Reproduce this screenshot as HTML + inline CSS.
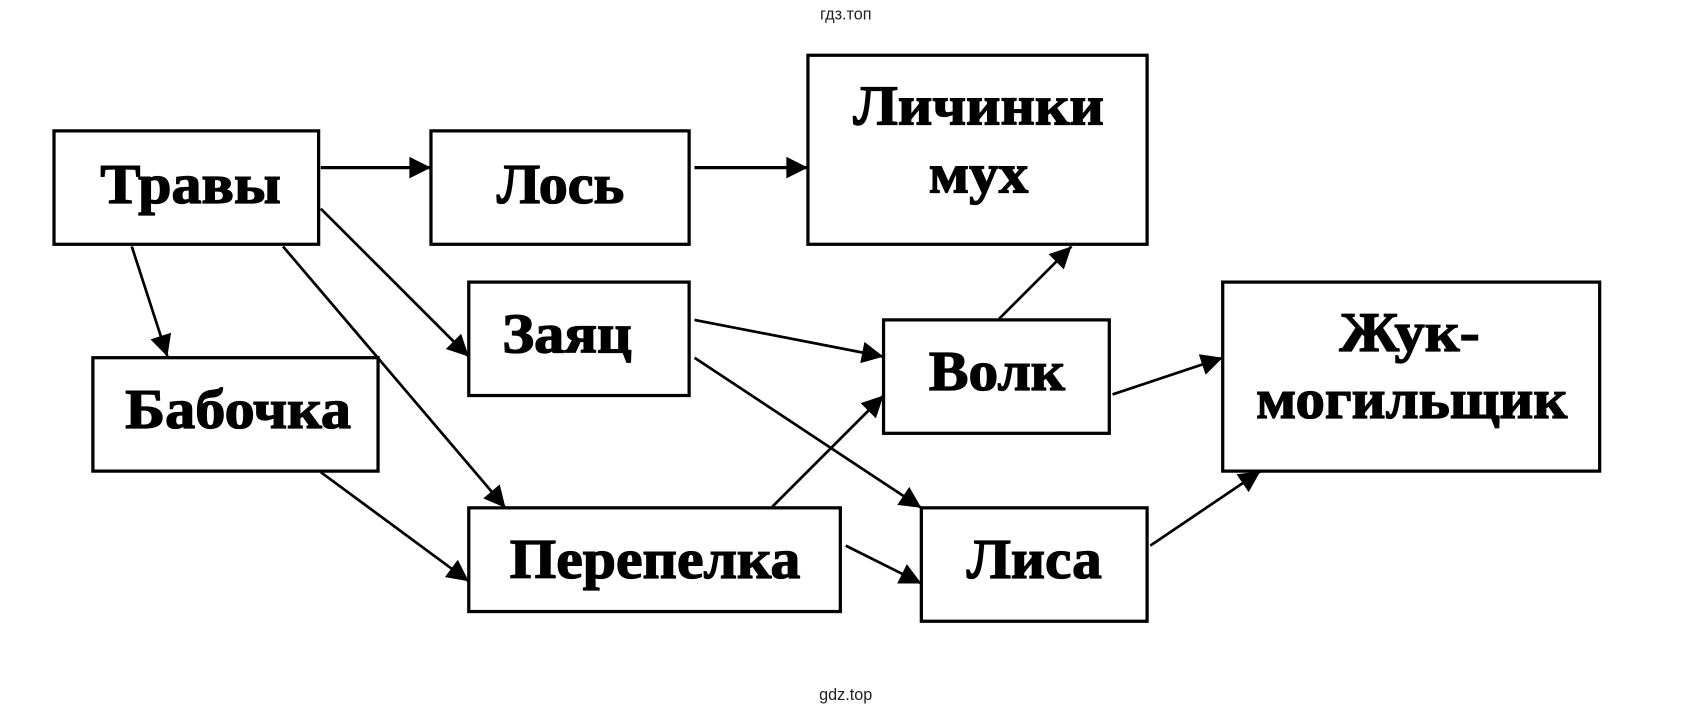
<!DOCTYPE html>
<html><head><meta charset="utf-8"><style>
html,body{margin:0;padding:0;background:#fff;width:1685px;height:710px;overflow:hidden}
svg{display:block}
.b{font-family:"Liberation Serif",serif;font-weight:bold;font-size:52px;fill:#000;stroke:#000;stroke-width:1.2}
.s{font-family:"Liberation Sans",sans-serif;font-size:15px;fill:#222}
</style></head><body>
<svg width="1685" height="710" viewBox="0 0 1560 657" xmlns="http://www.w3.org/2000/svg">
<defs>
<marker id="m" viewBox="0 0 10 10" refX="10" refY="5" markerWidth="22" markerHeight="20" markerUnits="userSpaceOnUse" orient="auto"><path d="M0,0 L10,5 L0,10 z" fill="#000"/></marker></defs>
<text class="s" x="783" y="18" text-anchor="middle">гдз.топ</text>
<text class="s" x="783" y="648" text-anchor="middle">gdz.top</text>
<g fill="none" stroke="#000" stroke-width="3">
<rect x="50" y="121" width="245" height="105"/>
<rect x="399" y="121" width="239" height="105"/>
<rect x="748" y="51" width="314" height="175"/>
<rect x="434" y="261" width="204" height="105"/>
<rect x="86" y="331" width="264" height="105"/>
<rect x="818" y="296" width="209" height="105"/>
<rect x="1132" y="261" width="349" height="175"/>
<rect x="434" y="470" width="344" height="96"/>
<rect x="853" y="470" width="209" height="105"/>
</g>
<g stroke="#000" stroke-width="2.5" marker-end="url(#m)">
<line x1="297" y1="155" x2="399" y2="155" stroke-width="3"/>
<line x1="643" y1="155" x2="748" y2="155" stroke-width="3"/>
<line x1="122" y1="228" x2="155" y2="330"/>
<line x1="262" y1="228" x2="468" y2="470"/>
<line x1="297" y1="193" x2="434" y2="330"/>
<line x1="297" y1="437" x2="434" y2="538"/>
<line x1="643" y1="296" x2="818" y2="330"/>
<line x1="643" y1="331" x2="853" y2="470"/>
<line x1="715" y1="469" x2="818" y2="366"/>
<line x1="783" y1="505" x2="853" y2="540"/>
<line x1="925" y1="295" x2="992" y2="228"/>
<line x1="1030" y1="365" x2="1132" y2="331"/>
<line x1="1065" y1="505" x2="1167" y2="436"/>
</g>
<g class="b">
<text x="93" y="188" textLength="167" lengthAdjust="spacingAndGlyphs">Травы</text>
<text x="460" y="188" textLength="118" lengthAdjust="spacingAndGlyphs">Лось</text>
<text x="790" y="115" textLength="232" lengthAdjust="spacingAndGlyphs">Личинки</text>
<text x="860" y="178" textLength="92" lengthAdjust="spacingAndGlyphs">мух</text>
<text x="465" y="326" textLength="120" lengthAdjust="spacingAndGlyphs">Заяц</text>
<text x="116" y="396" textLength="209" lengthAdjust="spacingAndGlyphs">Бабочка</text>
<text x="860" y="361" textLength="126" lengthAdjust="spacingAndGlyphs">Волк</text>
<text x="1240" y="325" textLength="130" lengthAdjust="spacingAndGlyphs">Жук-</text>
<text x="1163" y="387" textLength="288" lengthAdjust="spacingAndGlyphs">могильщик</text>
<text x="472" y="535" textLength="269" lengthAdjust="spacingAndGlyphs">Перепелка</text>
<text x="895" y="535" textLength="125" lengthAdjust="spacingAndGlyphs">Лиса</text>
</g>
</svg>
</body></html>
